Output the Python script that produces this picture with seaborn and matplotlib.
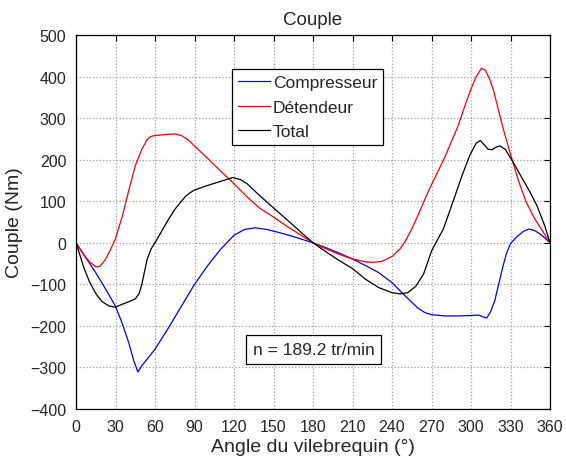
import matplotlib
matplotlib.use('Agg')
import matplotlib.pyplot as plt
import seaborn as sns
import pandas as pd

# Compresseur (blue)
comp_angle = [0, 5, 10, 15, 20, 25, 30, 35, 40, 44, 47, 50, 55, 60, 70, 80, 90, 100,
              110, 120, 128, 136, 145, 155, 165, 172, 180, 190, 200, 210, 220, 230, 240,
              250, 260, 265, 270, 280, 290, 300, 306, 309, 312, 315, 318, 321, 324, 327,
              330, 335, 340, 344, 348, 352, 356, 360]
comp_torque = [0, -24, -48, -72, -98, -125, -153, -193, -240, -285, -311, -296, -276, -256,
               -206, -153, -100, -55, -15, 18, 32, 36, 32, 24, 15, 8, 0, -12, -25, -39,
               -55, -72, -96, -128, -158, -168, -173, -176, -176, -175, -174, -178, -181,
               -165, -140, -100, -60, -25, -2, 15, 28, 33, 30, 22, 12, 0]

# Détendeur (red)
det_angle = [0, 5, 10, 15, 18, 22, 26, 30, 35, 40, 45, 50, 54, 57, 60, 70, 75, 80, 85,
             90, 100, 110, 120, 130, 140, 150, 160, 170, 180, 190, 200, 210, 220, 226,
             232, 240, 246, 250, 255, 260, 265, 270, 280, 290, 296, 300, 304, 308, 311,
             314, 317, 320, 324, 328, 332, 336, 342, 348, 352, 356, 360]
det_torque = [0, -25, -45, -58, -57, -42, -18, 10, 62, 125, 185, 225, 248, 256, 258, 261,
              262, 258, 248, 233, 203, 172, 142, 110, 82, 62, 40, 20, 0, -15, -28, -39,
              -46, -47, -45, -33, -15, 3, 33, 68, 105, 140, 205, 280, 335, 370, 400, 420,
              415, 395, 368, 330, 280, 235, 192, 150, 97, 60, 40, 20, 0]

# Total (black)
tot_angle = [0, 3, 6, 10, 15, 20, 25, 30, 35, 40, 45, 48, 50, 52, 54, 57, 60, 66, 70, 75,
             80, 83, 86, 90, 100, 110, 119, 125, 130, 137, 145, 155, 165, 172, 180, 190,
             200, 210, 220, 230, 240, 246, 252, 258, 264, 270, 275, 279, 287, 293, 299,
             304, 307, 310, 313, 316, 319, 322, 326, 332, 338, 345, 350, 356, 360]
tot_torque = [0, -30, -60, -92, -122, -142, -152, -155, -148, -142, -135, -122, -100, -70,
              -40, -15, 0, 33, 55, 80, 100, 111, 119, 127, 138, 148, 157, 152, 142, 121, 98,
              70, 42, 22, 0, -22, -43, -62, -88, -108, -120, -123, -120, -105, -75, -20,
              10, 33, 105, 160, 210, 240, 246, 236, 225, 224, 230, 233, 225, 194, 160, 121,
              90, 41, 0]

series_names = ["Compresseur", "Détendeur", "Total"]
series_colors = ["#0000ff", "#ff0000", "#000000"]

df = pd.concat([
    pd.DataFrame({"angle": comp_angle, "couple": comp_torque, "serie": series_names[0]}),
    pd.DataFrame({"angle": det_angle, "couple": det_torque, "serie": series_names[1]}),
    pd.DataFrame({"angle": tot_angle, "couple": tot_torque, "serie": series_names[2]}),
])

sns.set_style("white")
plt.rcParams['font.family'] = ['Liberation Sans', 'DejaVu Sans']

fig = plt.figure(figsize=(5.66, 4.64), dpi=100)
ax = fig.add_axes([76 / 566, 1 - 410 / 464, 474 / 566, 374 / 464])

sns.lineplot(data=df, x="angle", y="couple", hue="serie", hue_order=series_names,
             palette=series_colors, sort=False, estimator=None, linewidth=0.9, ax=ax)

ax.set_xlim(0, 360)
ax.set_ylim(-400, 500)
ax.set_xticks(range(0, 361, 30))
ax.set_yticks(range(-400, 501, 100))
ax.grid(True, linestyle=':', color='#a0a0a0', linewidth=0.9)
ax.tick_params(direction='in', top=True, right=True, length=4, labelsize=11.5,
               color='black', width=0.8, pad=7)
for s in ax.spines.values():
    s.set_color('black')
    s.set_linewidth(0.9)

ax.set_title("Couple", fontsize=13.5, pad=8)
ax.set_xlabel("Angle du vilebrequin (°)", fontsize=14, labelpad=3)
ax.set_ylabel("Couple (Nm)", fontsize=14, labelpad=5)

leg = ax.legend(loc='upper left', bbox_to_anchor=(0.329, 0.909), borderaxespad=0,
                fontsize=12.5, frameon=True, fancybox=False, edgecolor='black',
                framealpha=1, handlelength=1.86, borderpad=0.35, labelspacing=0.53,
                handletextpad=0.15, title=None)
leg.get_frame().set_linewidth(0.9)

ax.text(0.501, 0.160, "n = 189.2 tr/min", transform=ax.transAxes, ha='center',
        va='center', fontsize=12.5,
        bbox=dict(boxstyle='square,pad=0.4', facecolor='white', edgecolor='black',
                  linewidth=0.9))

fig.savefig("out.png", dpi=100)
